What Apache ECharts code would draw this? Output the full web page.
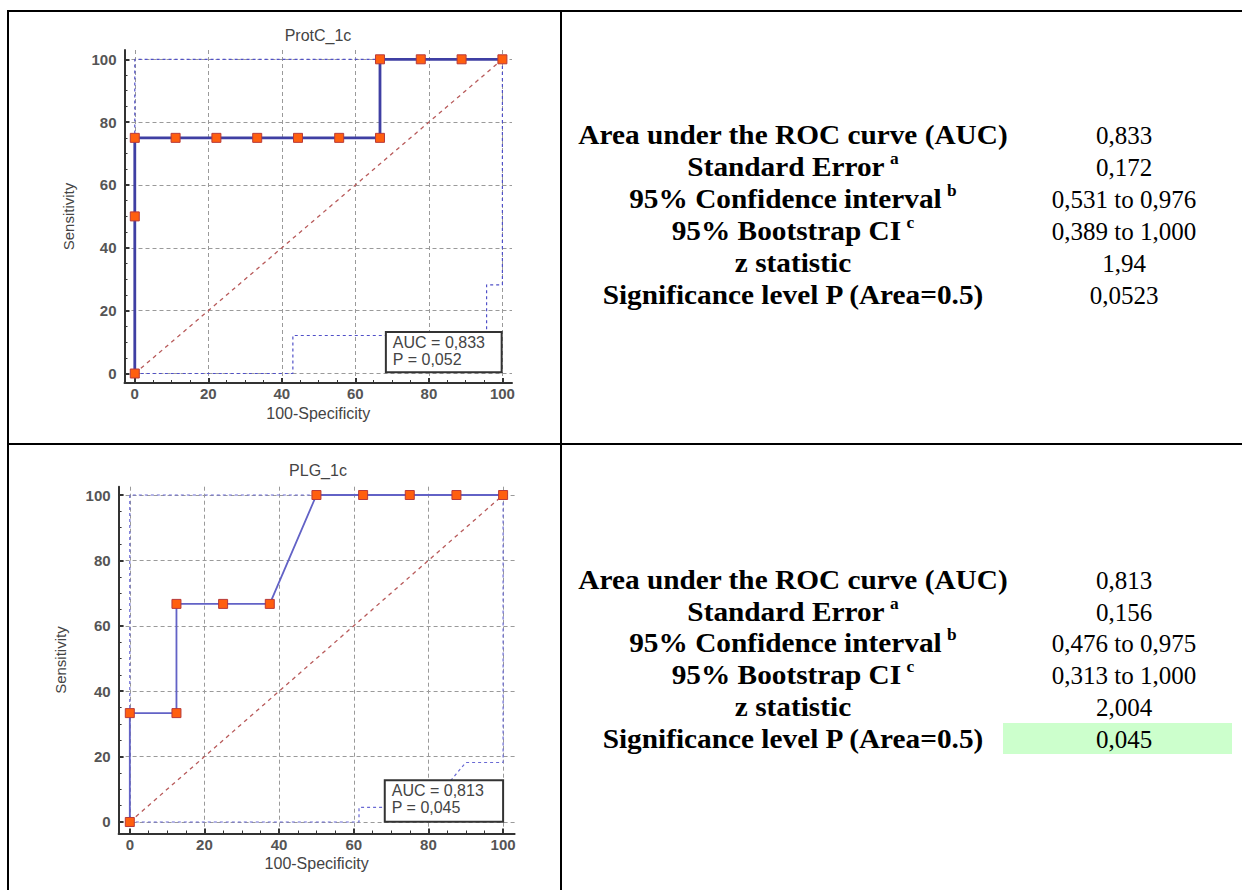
<!DOCTYPE html>
<html><head><meta charset="utf-8">
<script src="https://cdn.jsdelivr.net/npm/echarts@6/dist/echarts.min.js"></script>
<style>
html,body{margin:0;padding:0;background:#fff;}
#wrap{position:relative;width:1242px;height:890px;overflow:hidden;background:#fff;}
#chart{position:absolute;left:0;top:0;width:1242px;height:890px;}
.ln{position:absolute;background:#000;}
.row{position:absolute;white-space:nowrap;font-family:"Liberation Serif","Times New Roman",serif;color:#000;line-height:1;}
.lab{font-weight:bold;font-size:27px;transform:translate(-50%,-50%) scaleX(1.085);}
.lab sup{font-size:16px;vertical-align:top;position:relative;top:-3px;margin-left:5px;}
.val{font-size:25px;transform:translate(-50%,-50%);}
.hl{position:absolute;background:#ccffcc;}
</style></head>
<body>
<div id="wrap">
  <div class="hl" style="left:1003px;top:723px;width:229px;height:31px;"></div>
  <div id="chart"></div>
  <div class="ln" style="left:7px;top:10px;width:1235px;height:2px;"></div>
  <div class="ln" style="left:7px;top:10px;width:2px;height:880px;"></div>
  <div class="ln" style="left:560px;top:10px;width:2px;height:880px;"></div>
  <div class="ln" style="left:7px;top:443px;width:1235px;height:2px;"></div>
  <div id="stats"></div>
</div>
<script>
// ---------- data ----------
const rocTitles = ['ProtC_1c', 'PLG_1c'];
const xAxisName = '100-Specificity';
const yAxisName = 'Sensitivity';
const majorTicks = [0, 20, 40, 60, 80, 100];
const minorTicks = [5, 10, 15, 25, 30, 35, 45, 50, 55, 65, 70, 75, 85, 90, 95];
const diagX = [0, 100];
const diagY = [0, 100];

const protcFpr  = [0, 0, 0, 11.1, 22.2, 33.3, 44.4, 55.6, 66.7, 66.7, 77.8, 88.9, 100];
const protcSens = [0, 50, 75, 75, 75, 75, 75, 75, 75, 100, 100, 100, 100];
const protcUpperX = [0, 0, 100];
const protcUpperY = [0, 100, 100];
const protcLowerX = [0, 43, 43, 95.7, 95.7, 100, 100];
const protcLowerY = [0, 0, 12.1, 12.1, 28.2, 28.2, 100];

const plgFpr  = [0, 0, 12.5, 12.5, 25, 37.5, 50, 62.5, 75, 87.5, 100];
const plgSens = [0, 33.3, 33.3, 66.7, 66.7, 66.7, 100, 100, 100, 100, 100];
const plgUpperX = [0, 0, 100];
const plgUpperY = [0, 100, 100];
const plgLowerX = [0, 61.4, 61.4, 80, 90, 100, 100];
const plgLowerY = [0, 0, 4.5, 4.5, 18.2, 18.2, 100];

const aucBoxText = [['AUC = 0,833', 'P = 0,052'], ['AUC = 0,813', 'P = 0,045']];

const statLabels = ['Area under the ROC curve (AUC)', 'Standard Error', '95% Confidence interval',
                    '95% Bootstrap CI', 'z statistic', 'Significance level P (Area=0.5)'];
const statSup = ['', 'a', 'b', 'c', '', ''];
const protcStats = ['0,833', '0,172', '0,531 to 0,976', '0,389 to 1,000', '1,94', '0,0523'];
const plgStats   = ['0,813', '0,156', '0,476 to 0,975', '0,313 to 1,000', '2,004', '0,045'];

// ---------- layout ----------
const zip = (xs, ys) => xs.map((x, i) => [x, ys[i]]);
const plots = [
  { title: rocTitles[0], roc: zip(protcFpr, protcSens), up: zip(protcUpperX, protcUpperY), lo: zip(protcLowerX, protcLowerY),
    box: aucBoxText[0], grid: {left: 124.5, top: 50, width: 387.5, height: 333},
    xr: [-2.8, 102.61], yr: [-3.02, 102.96], boxArea: [68.3, 0.4, 99.8, 13.2],
    rocColor: '#3f3fa3', rocWidth: 2.8, bandColor: '#5050c8', titleX: 318, titleY: 35, yNameGap: 49 },
  { title: rocTitles[1], roc: zip(plgFpr, plgSens), up: zip(plgUpperX, plgUpperY), lo: zip(plgLowerX, plgLowerY),
    box: aucBoxText[1], grid: {left: 118.6, top: 486.7, width: 396, height: 346.8},
    xr: [-3.0, 103.08], yr: [-3.52, 102.54], boxArea: [68.3, 0.1, 100, 12.8],
    rocColor: '#6262c6', rocWidth: 1.8, bandColor: '#6a6ad4', titleX: 318, titleY: 470, yNameGap: 51 }
];

const sans = '"Liberation Sans", Arial, sans-serif';
const labelFont = {fontFamily: sans, fontSize: 15, fontWeight: 'bold', color: '#555'};
const option = {animation: false, grid: [], xAxis: [], yAxis: [], series: [], graphic: []};

plots.forEach((p, i) => {
  option.grid.push(p.grid);
  option.xAxis.push({
    type: 'value', gridIndex: i, min: p.xr[0], max: p.xr[1], position: 'bottom',
    name: xAxisName, nameLocation: 'middle', nameGap: 22,
    nameTextStyle: {fontFamily: sans, fontSize: 16, color: '#444'},
    axisLine: {onZero: false, lineStyle: {color: '#333', width: 2}},
    axisTick: {customValues: majorTicks, inside: true, length: 5, lineStyle: {color: '#333', width: 2}},
    axisLabel: Object.assign({customValues: majorTicks, margin: 3}, labelFont),
    splitLine: {show: true, lineStyle: {color: '#9a9a9a', type: [4, 3], width: 1}}
  });
  option.xAxis.push({
    type: 'value', gridIndex: i, min: p.xr[0], max: p.xr[1], position: 'bottom',
    axisLine: {show: false, onZero: false},
    axisTick: {customValues: minorTicks, inside: true, length: 3, lineStyle: {color: '#333', width: 1}},
    axisLabel: {show: false}, splitLine: {show: false}
  });
  option.yAxis.push({
    type: 'value', gridIndex: i, min: p.yr[0], max: p.yr[1], position: 'left',
    name: yAxisName, nameLocation: 'middle', nameGap: p.yNameGap,
    nameTextStyle: {fontFamily: sans, fontSize: 15, color: '#444'},
    axisLine: {onZero: false, lineStyle: {color: '#333', width: 2}},
    axisTick: {customValues: majorTicks, inside: true, length: 5, lineStyle: {color: '#333', width: 2}},
    axisLabel: Object.assign({customValues: majorTicks, margin: 8}, labelFont),
    splitLine: {show: true, lineStyle: {color: '#9a9a9a', type: [4, 3], width: 1}}
  });
  option.yAxis.push({
    type: 'value', gridIndex: i, min: p.yr[0], max: p.yr[1], position: 'left',
    axisLine: {show: false, onZero: false},
    axisTick: {customValues: minorTicks, inside: true, length: 3, lineStyle: {color: '#333', width: 1}},
    axisLabel: {show: false}, splitLine: {show: false}
  });
  const xi = i * 2, yi = i * 2;
  option.series.push({
    type: 'line', xAxisIndex: xi, yAxisIndex: yi, data: zip(diagX, diagY), symbol: 'none', z: 2,
    lineStyle: {color: '#b85a5a', width: 1.3, type: [4, 4]}
  });
  option.series.push({
    type: 'line', xAxisIndex: xi, yAxisIndex: yi, data: p.up, symbol: 'none', z: 2,
    lineStyle: {color: p.bandColor, width: 1.2, type: [3, 3]}
  });
  option.series.push({
    type: 'line', xAxisIndex: xi, yAxisIndex: yi, data: p.lo, symbol: 'none', z: 2,
    lineStyle: {color: p.bandColor, width: 1.2, type: [3, 3]}
  });
  option.series.push({
    type: 'line', xAxisIndex: xi, yAxisIndex: yi, data: p.roc, z: 4,
    symbol: 'rect', symbolSize: 9,
    itemStyle: {color: '#ff5f0f', borderColor: '#b83a3a', borderWidth: 1},
    lineStyle: {color: p.rocColor, width: p.rocWidth}
  });
  const boxText = p.box.join('\n');
  option.series.push({
    type: 'custom', xAxisIndex: xi, yAxisIndex: yi, z: 10, clip: false, silent: true,
    data: [p.boxArea],
    renderItem: (params, api) => {
      const a = api.coord([api.value(0), api.value(1)]);
      const b = api.coord([api.value(2), api.value(3)]);
      return {
        type: 'group', children: [
          {type: 'rect', shape: {x: a[0], y: b[1], width: b[0] - a[0], height: a[1] - b[1]},
           style: {fill: '#ffffff', stroke: '#333', lineWidth: 2}},
          {type: 'text', x: a[0] + 7, y: b[1] + 2,
           style: {text: boxText, font: '16px ' + sans, fill: '#444', lineHeight: 17, textVerticalAlign: 'top'}}
        ]
      };
    }
  });
  option.graphic.push({
    type: 'text', x: p.titleX, y: p.titleY,
    style: {text: p.title, textAlign: 'center', textVerticalAlign: 'middle',
            font: '16px ' + sans, fill: '#444'}
  });
});

const chart = echarts.init(document.getElementById('chart'), null, {renderer: 'svg', width: 1242, height: 890});
chart.setOption(option);

// ---------- stats text ----------
const statsEl = document.getElementById('stats');
const blocks = [{vals: protcStats, y0: 135, dy: 32}, {vals: plgStats, y0: 580, dy: 31.7}];
blocks.forEach(b => {
  statLabels.forEach((lab, k) => {
    const y = b.y0 + k * b.dy;
    const l = document.createElement('div');
    l.className = 'row lab';
    l.style.left = '793px'; l.style.top = y + 'px';
    l.innerHTML = lab + (statSup[k] ? '<sup>' + statSup[k] + '</sup>' : '');
    statsEl.appendChild(l);
    const v = document.createElement('div');
    v.className = 'row val';
    v.style.left = '1124px'; v.style.top = y + 'px';
    v.textContent = b.vals[k];
    statsEl.appendChild(v);
  });
});
</script>
</body></html>
